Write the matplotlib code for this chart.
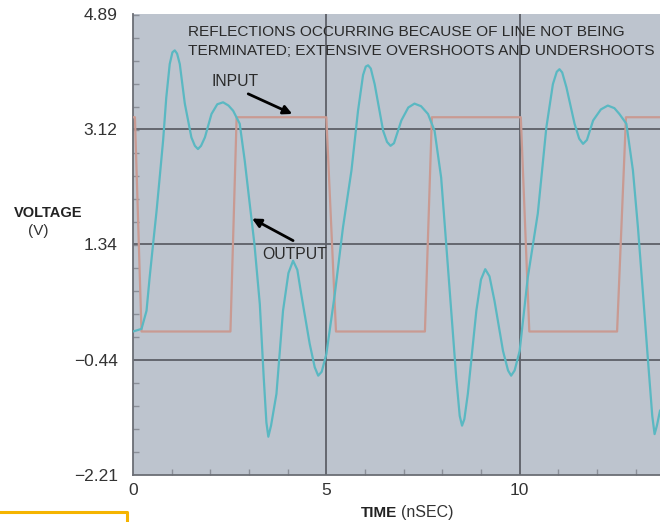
import matplotlib
matplotlib.use("Agg")
import matplotlib.pyplot as plt
import numpy as np
from matplotlib.lines import Line2D
from matplotlib.ticker import FixedLocator

# values
INPUT_T = [0.0, 0.05, 0.22, 2.52, 2.68, 5.00, 5.25, 7.55, 7.73, 10.03, 10.25, 12.52, 12.75, 13.63]
INPUT_V = [3.30, 3.30, 0.00, 0.00, 3.30, 3.30, 0.00, 0.00, 3.30, 3.30, 0.00, 0.00, 3.30, 3.30]

OUTPUT_T = [0.00, 0.22, 0.35, 0.43, 0.52, 0.61, 0.69, 0.78, 0.86, 0.95, 1.02, 1.08, 1.14, 1.21,
            1.34, 1.51, 1.60, 1.68, 1.76, 1.86, 2.03, 2.18, 2.33, 2.47, 2.59, 2.76, 2.89, 3.02,
            3.14, 3.28, 3.38, 3.45, 3.50, 3.57, 3.71, 3.88, 4.02, 4.14, 4.25, 4.35, 4.57, 4.70,
            4.79, 4.88, 5.00, 5.22, 5.43, 5.65, 5.82, 5.95, 6.02, 6.08, 6.15, 6.25, 6.47, 6.57,
            6.66, 6.75, 6.94, 7.12, 7.28, 7.45, 7.63, 7.80, 7.97, 8.10, 8.23, 8.36, 8.45, 8.51,
            8.57, 8.66, 8.88, 9.00, 9.11, 9.22, 9.35, 9.57, 9.70, 9.78, 9.87, 10.00, 10.21, 10.47,
            10.69, 10.86, 10.96, 11.03, 11.10, 11.21, 11.42, 11.54, 11.64, 11.74, 11.90, 12.10,
            12.28, 12.45, 12.58, 12.76, 12.93, 13.06, 13.19, 13.32, 13.43, 13.49, 13.55, 13.63]
OUTPUT_V = [0.00, 0.04, 0.32, 0.83, 1.35, 1.86, 2.37, 2.95, 3.60, 4.12, 4.30, 4.33, 4.28, 4.12,
            3.51, 2.99, 2.86, 2.81, 2.86, 2.99, 3.35, 3.50, 3.53, 3.48, 3.40, 3.20, 2.63, 1.96,
            1.35, 0.42, -0.70, -1.40, -1.62, -1.45, -0.96, 0.32, 0.90, 1.09, 0.95, 0.58, -0.19, -0.55,
            -0.68, -0.62, -0.35, 0.58, 1.60, 2.48, 3.40, 3.95, 4.08, 4.10, 4.05, 3.81, 3.09, 2.92,
            2.86, 2.90, 3.25, 3.45, 3.51, 3.47, 3.35, 3.09, 2.37, 1.35, 0.32, -0.71, -1.30, -1.45,
            -1.35, -0.96, 0.32, 0.80, 0.96, 0.85, 0.47, -0.30, -0.60, -0.68, -0.60, -0.30, 0.83, 1.82,
            3.14, 3.81, 4.00, 4.04, 3.99, 3.76, 3.20, 2.97, 2.89, 2.95, 3.25, 3.42,
            3.48, 3.44, 3.35, 3.20, 2.48, 1.60, 0.58, -0.45, -1.30, -1.58, -1.45, -1.22]

Y_TICKS = [-2.21, -0.44, 1.34, 3.12, 4.89]
X_TICKS = [0, 5, 10]

FONT = ["Liberation Sans", "DejaVu Sans"]

fig = plt.figure(figsize=(6.6, 5.22), dpi=100)
ax = fig.add_axes([133 / 660, 47 / 522, 527 / 660, 461 / 522])
ax.set_facecolor("#bdc4ce")

ax.plot(INPUT_T, INPUT_V, color="#c99a92", lw=1.6, zorder=3)
ax.plot(OUTPUT_T, OUTPUT_V, color="#5ab8c2", lw=1.6, zorder=4)

ax.set_xlim(0, 13.63)
ax.set_ylim(-2.21, 4.89)

for x in X_TICKS[1:]:
    ax.axvline(x, color="#5d6068", lw=1.3, zorder=2)
for y in Y_TICKS[1:-1]:
    ax.axhline(y, color="#5d6068", lw=1.3, zorder=2)

ax.set_xticks(X_TICKS)
ax.set_yticks(Y_TICKS)
ax.set_yticklabels([f"{v:.2f}".replace("-", "\u2212") for v in Y_TICKS])
ax.tick_params(axis="both", which="major", length=0, labelsize=12.5, colors="#333333")
ax.tick_params(axis="y", pad=11)
ax.tick_params(axis="x", pad=6)
for lab in ax.get_xticklabels() + ax.get_yticklabels():
    lab.set_family(FONT)

ax.xaxis.set_minor_locator(FixedLocator([1, 2, 3, 4, 6, 7, 8, 9, 11, 12, 13]))
ystep = (Y_TICKS[1] - Y_TICKS[0]) / 5
ax.yaxis.set_minor_locator(FixedLocator(np.arange(Y_TICKS[0], Y_TICKS[-1], ystep)))
ax.tick_params(which="minor", direction="in", length=4, width=1, color="#8a8f98")

for side in ["top", "right"]:
    ax.spines[side].set_visible(False)
for side in ["left", "bottom"]:
    ax.spines[side].set_color("#6b6e75")
    ax.spines[side].set_linewidth(1.3)

ax.text(1.42, 4.72, "REFLECTIONS OCCURRING BECAUSE OF LINE NOT BEING\nTERMINATED; EXTENSIVE OVERSHOOTS AND UNDERSHOOTS",
        ha="left", va="top", fontsize=11.1, family=FONT, color="#2a2a2a", linespacing=1.45, zorder=5)
ax.text(2.64, 3.85, "INPUT", ha="center", va="center", fontsize=11.3, family=FONT, color="#2a2a2a", zorder=5)
ax.text(4.19, 1.18, "OUTPUT", ha="center", va="center", fontsize=11.3, family=FONT, color="#2a2a2a", zorder=5)

arrow = dict(arrowstyle="-|>", lw=2.0, color="black", mutation_scale=13, shrinkA=0, shrinkB=0)
ax.annotate("", xy=(4.12, 3.35), xytext=(2.98, 3.66), arrowprops=arrow, zorder=6)
ax.annotate("", xy=(3.08, 1.74), xytext=(4.14, 1.40), arrowprops=arrow, zorder=6)

fig.text(48 / 660, 1 - 213 / 522, "VOLTAGE", ha="center", va="center", fontsize=10.5,
         fontweight="bold", family=FONT, color="#222222")
fig.text(38 / 660, 1 - 231 / 522, "(V)", ha="center", va="center", fontsize=11,
         family=FONT, color="#333333")
fig.text(397 / 660, 1 - 513 / 522, "TIME", ha="right", va="center", fontsize=11,
         fontweight="bold", family=FONT, color="#222222")
fig.text(401 / 660, 1 - 513 / 522, "(nSEC)", ha="left", va="center", fontsize=11.5,
         family=FONT, color="#333333")

# yellow box corner at bottom left
fig.add_artist(Line2D([0, 127 / 660, 127 / 660], [1 - 511.7 / 522, 1 - 511.7 / 522, 0],
                      transform=fig.transFigure, color="#f5b400", lw=2.2))

fig.savefig("out.png", dpi=100)
